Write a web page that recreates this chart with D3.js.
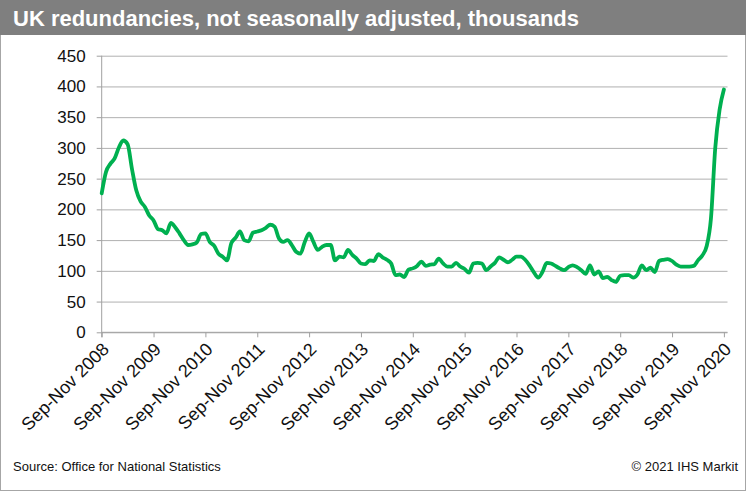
<!DOCTYPE html>
<html><head><meta charset="utf-8">
<script src="https://cdn.jsdelivr.net/npm/d3@7"></script>
<style>
body{margin:0;background:#fff}
svg{display:block}
text{font-family:Arial,"Liberation Sans",sans-serif}
</style>
</head><body>
<svg id="c" width="747" height="492"></svg>
<script>
const title = "UK redundancies, not seasonally adjusted, thousands";
const source = "Source: Office for National Statistics";
const credit = "\u00A9 2021 IHS Markit";
const tickLabels = ["Sep-Nov 2008","Sep-Nov 2009","Sep-Nov 2010","Sep-Nov 2011","Sep-Nov 2012","Sep-Nov 2013","Sep-Nov 2014","Sep-Nov 2015","Sep-Nov 2016","Sep-Nov 2017","Sep-Nov 2018","Sep-Nov 2019","Sep-Nov 2020"];
const yTicks = [0,50,100,150,200,250,300,350,400,450];
// monthly rolling 3-month values, Sep-Nov 2008 .. Sep-Nov 2020 (thousands)
const redundancies = [
226,261,274,283,301,312,306,266,231,213,204,190,
182,168,166,161,178,171,161,150,142,143,146,160,
161,147,141,128,123,117,145,154,164,150,148,162,
164,166,170,175,172,153,147,150,142,131,128,147,
161,147,134,139,142,142,117,123,122,134,126,120,
112,111,117,116,127,122,118,112,93,94,90,102,
104,108,115,108,110,111,120,112,107,107,113,107,
103,97,112,113,112,101,107,113,122,118,114,118,
123,123,118,109,98,89,98,113,112,108,104,101,
106,109,106,101,95,109,94,99,88,90,85,82,
92,93,93,89,94,109,101,105,98,116,118,119,
116,110,107,107,107,108,117,125,140,185,300,362,
395];

const svg = d3.select('#c');
const left = 101.7, right = 723.9, plotEnd = 727.5;
const x = d3.scaleLinear().domain([0, redundancies.length - 1]).range([left, right]);
const y = d3.scaleLinear().domain([0, 450]).range([332.3, 55.7]);

// frame + title bar
svg.append('rect').attr('x',0.5).attr('y',0.5).attr('width',745).attr('height',490)
  .attr('fill','#fff').attr('stroke','#a6a6a6');
svg.append('rect').attr('x',0).attr('y',0).attr('width',746).attr('height',35).attr('fill','#7f7f7f');
svg.append('text').attr('x',13).attr('y',25.5).attr('fill','#fff')
  .attr('font-size',22).attr('font-weight','bold').text(title);

// gridlines
const grid = svg.append('g').attr('transform',`translate(${left},0)`)
  .call(d3.axisLeft(y).tickValues(yTicks).tickSize(-(plotEnd-left)).tickFormat(''));
grid.select('.domain').remove();
grid.selectAll('line').attr('stroke','#b0b0b0').attr('stroke-width',1);

// y axis
const ya = svg.append('g').attr('transform',`translate(${left},0)`)
  .call(d3.axisLeft(y).tickValues(yTicks).tickSize(5).tickPadding(11));
ya.select('.domain').remove();
ya.selectAll('line').attr('stroke','#a0a0a0');
ya.selectAll('text').attr('font-size',17).attr('fill','#111').attr('font-family','Arial,"Liberation Sans",sans-serif');
svg.append('line').attr('x1',left).attr('x2',left).attr('y1',y(450)).attr('y2',y(0)+5)
  .attr('stroke','#a0a0a0');

// x axis
const tickIdx = tickLabels.map((d,i)=>i*12);
const xa = svg.append('g').attr('transform',`translate(0,${y(0)})`)
  .call(d3.axisBottom(x).tickValues(tickIdx).tickSize(5).tickFormat((d,i)=>tickLabels[i]));
xa.select('.domain').remove();
xa.selectAll('line').attr('stroke','#a0a0a0');
xa.selectAll('text').attr('font-size',18).attr('fill','#111')
  .attr('font-family','Arial,"Liberation Sans",sans-serif')
  .attr('x',0).attr('y',0).attr('dy',0)
  .attr('text-anchor','end')
  .attr('transform','translate(8,18) rotate(-45)');
svg.append('line').attr('x1',left).attr('x2',plotEnd).attr('y1',y(0)).attr('y2',y(0))
  .attr('stroke','#a0a0a0');

// series line
const line = d3.line().x((d,i)=>x(i)).y(d=>y(d)).curve(d3.curveMonotoneX);
svg.append('path').datum(redundancies).attr('d',line)
  .attr('fill','none').attr('stroke','#00b050').attr('stroke-width',3.8)
  .attr('stroke-linejoin','round').attr('stroke-linecap','round');

// footer
svg.append('text').attr('x',13).attr('y',471).attr('font-size',13).attr('fill','#111').text(source);
svg.append('text').attr('x',738).attr('y',471).attr('font-size',13).attr('fill','#111')
  .attr('text-anchor','end').text(credit);
</script>
</body></html>
